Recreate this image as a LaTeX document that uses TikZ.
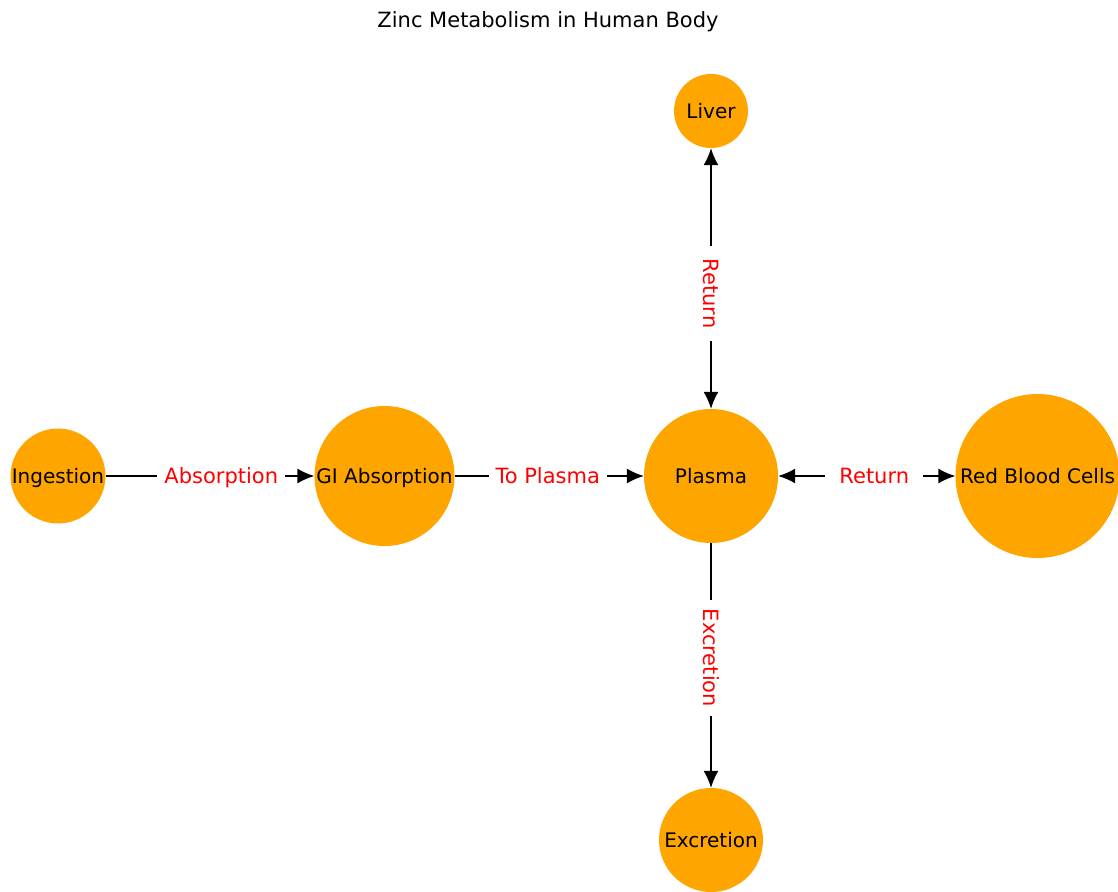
\documentclass[tikz,border=0pt]{standalone}
\usepackage{fontspec}
\setmainfont{DejaVu Sans}
\usepackage{tikz}
\usetikzlibrary{arrows.meta,calc}
\definecolor{zinc}{HTML}{FFA500}
\tikzstyle{organ} = [circle, fill=zinc, inner sep=0pt, text=black, text height=19pt, text depth=3.5pt, font=\fontsize{20}{24}\selectfont]
\tikzstyle{flowlabel} = [fill=white, text=red, inner sep=7pt, text height=19.5pt, text depth=4pt, font=\fontsize{21}{24}\selectfont]
\tikzstyle{arrow} = [line width=1.4pt, -{Latex[length=17pt,width=15pt]}]

\begin{document}
\begin{tikzpicture}[x=1pt,y=-1pt,node distance=326.5pt]
\useasboundingbox (0,0) rectangle (1118,891);
\node (title) at (548,22) [font=\fontsize{21}{24}\selectfont] {Zinc Metabolism in Human Body};

\node (ing)  [organ, minimum size=94pt] at (58,476) {Ingestion};
\node (gi)   [organ, minimum size=140pt, right of=ing] {GI Absorption};
\node (pla)  [organ, minimum size=134pt, right of=gi] {Plasma};
\node (rbc)  [organ, minimum size=164pt, right of=pla] {Red Blood Cells};
\node (liv)  [organ, minimum size=74pt, above of=pla, yshift=38.5pt] {Liver};
\node (exc)  [organ, minimum size=104pt, below of=pla, yshift=-37.5pt] {Excretion};

\draw [arrow] (ing) -- (gi);
\draw [arrow] (gi) -- (pla);
\draw [arrow, {Latex[length=17pt,width=15pt]}-{Latex[length=17pt,width=15pt]}] (pla) -- (rbc);
\draw [arrow, {Latex[length=17pt,width=15pt]}-{Latex[length=17pt,width=15pt]}] (pla) -- (liv);
\draw [arrow] (pla) -- (exc);

\node (lab1) [flowlabel] at ($(ing)!0.5!(gi)$) {Absorption};
\node (lab2) [flowlabel] at ($(gi)!0.5!(pla)$) {To Plasma};
\node (lab3) [flowlabel, inner xsep=14pt] at ($(pla)!0.5!(rbc)$) {Return};
\node (lab4) [flowlabel, rotate=-90, inner xsep=13pt] at ($(pla)!0.5!(liv)$) {Return};
\node (lab5) [flowlabel, rotate=-90, inner xsep=9pt] at ($(pla)!0.5!(exc)$) {Excretion};
\end{tikzpicture}
\end{document}
